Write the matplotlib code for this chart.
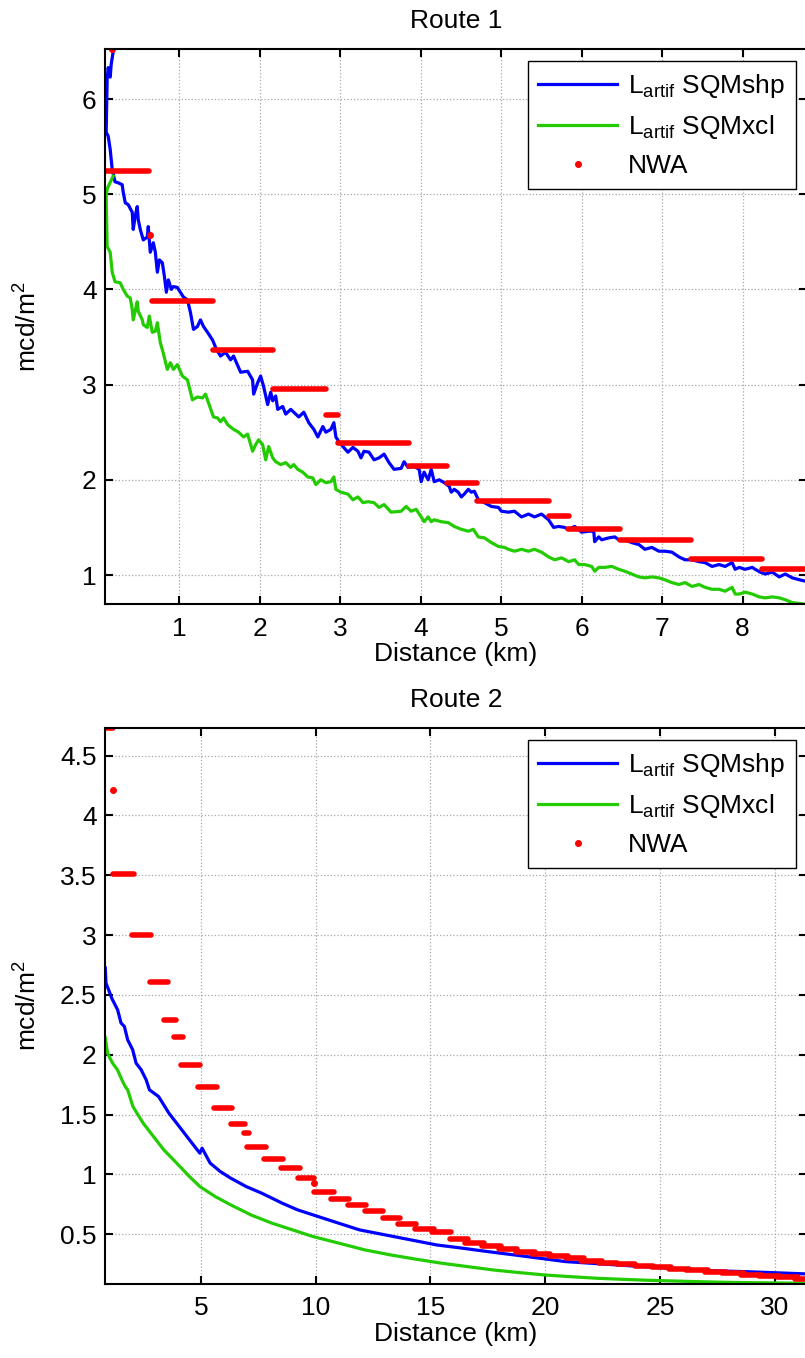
import numpy as np
import matplotlib
matplotlib.use("Agg")
import matplotlib.pyplot as plt

plt.rcParams['font.family'] = ['Liberation Sans', 'DejaVu Sans']
plt.rcParams['mathtext.fontset'] = 'custom'
plt.rcParams['mathtext.rm'] = 'Liberation Sans'
plt.rcParams['mathtext.it'] = 'Liberation Sans:italic'

# ---- Route 1 data ----
r1_shp_km = [0.177, 0.152, 0.140, 0.115, 0.102, 0.09, 0.115, 0.14, 0.165, 0.20,
             0.239, 0.289, 0.302, 0.327, 0.364, 0.414, 0.426, 0.451, 0.476, 0.489,
             0.514, 0.551, 0.601, 0.613, 0.638, 0.676, 0.701, 0.726, 0.751, 0.788,
             0.813, 0.838, 0.863, 0.900, 0.925, 0.975, 1.012, 1.05, 1.10, 1.137,
             1.175, 1.224, 1.262, 1.30, 1.349, 1.411, 1.461, 1.511, 1.574, 1.636,
             1.673, 1.761, 1.848, 1.910, 1.923, 1.973, 2.01, 2.047, 2.097, 2.135,
             2.16, 2.197, 2.222, 2.284, 2.322, 2.384, 2.421, 2.484, 2.546, 2.608,
             2.671, 2.721, 2.783, 2.82, 2.883, 2.92, 2.945, 2.983, 3.032, 3.095,
             3.157, 3.219, 3.257, 3.294, 3.357, 3.419, 3.481, 3.544, 3.606, 3.668,
             3.756, 3.793, 3.843, 3.918, 3.98, 4.005, 4.042, 4.092, 4.13, 4.167,
             4.229, 4.292, 4.354, 4.379, 4.416, 4.466, 4.504, 4.541, 4.591, 4.628,
             4.666, 4.716, 4.791, 4.878, 4.965, 5.002, 5.09, 5.165, 5.252, 5.339,
             5.414, 5.501, 5.589, 5.651, 5.713, 5.788, 5.838, 5.913, 6.0, 6.087,
             6.15, 6.162, 6.212, 6.249, 6.337, 6.411, 6.461, 6.536, 6.623, 6.711,
             6.786, 6.873, 6.96, 7.035, 7.122, 7.209, 7.284, 7.372, 7.459, 7.534,
             7.621, 7.708, 7.783, 7.870, 7.908, 7.958, 8.032, 8.12, 8.157, 8.219,
             8.282, 8.369, 8.456, 8.531, 8.618, 8.706, 8.805]
r1_shp = [6.50, 6.36, 6.23, 6.33, 6.20, 5.65, 5.61, 5.47, 5.26, 5.13,
          5.12, 5.10, 5.02, 4.91, 4.89, 4.81, 4.63, 4.77, 4.87, 4.73,
          4.63, 4.52, 4.55, 4.66, 4.39, 4.49, 4.39, 4.18, 4.31, 4.28,
          4.14, 3.97, 4.10, 4.00, 4.03, 4.02, 3.97, 3.92, 3.89, 3.76,
          3.58, 3.61, 3.68, 3.61, 3.55, 3.47, 3.37, 3.30, 3.34, 3.26,
          3.30, 3.13, 3.14, 3.05, 2.90, 3.02, 3.09, 2.98, 2.79, 2.92,
          2.83, 2.88, 2.74, 2.77, 2.69, 2.74, 2.71, 2.66, 2.71, 2.60,
          2.53, 2.45, 2.56, 2.50, 2.53, 2.60, 2.45, 2.40, 2.35, 2.29,
          2.34, 2.30, 2.23, 2.30, 2.29, 2.21, 2.23, 2.27, 2.18, 2.11,
          2.12, 2.19, 2.13, 2.14, 2.11, 1.98, 2.08, 2.00, 2.11, 1.98,
          2.00, 1.97, 1.93, 1.87, 1.90, 1.87, 1.82, 1.85, 1.90, 1.87,
          1.88, 1.79, 1.76, 1.72, 1.71, 1.67, 1.66, 1.67, 1.61, 1.64,
          1.61, 1.64, 1.58, 1.50, 1.51, 1.50, 1.48, 1.51, 1.45, 1.46,
          1.46, 1.35, 1.40, 1.37, 1.39, 1.40, 1.37, 1.37, 1.34, 1.32,
          1.27, 1.29, 1.25, 1.25, 1.24, 1.19, 1.16, 1.16, 1.14, 1.13,
          1.09, 1.11, 1.09, 1.13, 1.06, 1.08, 1.06, 1.08, 1.06, 1.03,
          1.01, 1.03, 0.98, 1.01, 0.97, 0.95, 0.93]

r1_xcl_km = [0.177, 0.115, 0.102, 0.09, 0.102, 0.14, 0.165, 0.20, 0.264, 0.302,
             0.352, 0.389, 0.414, 0.426, 0.476, 0.489, 0.539, 0.551, 0.601, 0.626,
             0.663, 0.701, 0.726, 0.763, 0.80, 0.85, 0.888, 0.925, 0.975, 1.037,
             1.10, 1.162, 1.224, 1.287, 1.324, 1.362, 1.424, 1.474, 1.511, 1.549,
             1.599, 1.673, 1.736, 1.798, 1.848, 1.910, 1.948, 1.985, 2.035, 2.072,
             2.110, 2.16, 2.197, 2.259, 2.322, 2.384, 2.421, 2.471, 2.534, 2.596,
             2.658, 2.696, 2.758, 2.82, 2.883, 2.92, 2.945, 3.007, 3.095, 3.157,
             3.219, 3.282, 3.344, 3.419, 3.481, 3.544, 3.631, 3.756, 3.818, 3.880,
             3.943, 4.005, 4.042, 4.092, 4.13, 4.167, 4.254, 4.342, 4.416, 4.504,
             4.591, 4.653, 4.716, 4.791, 4.878, 4.965, 5.04, 5.09, 5.165, 5.252,
             5.339, 5.414, 5.501, 5.589, 5.663, 5.751, 5.838, 5.913, 5.963, 6.037,
             6.125, 6.162, 6.212, 6.287, 6.374, 6.461, 6.536, 6.623, 6.711, 6.786,
             6.873, 6.96, 7.035, 7.122, 7.209, 7.284, 7.372, 7.459, 7.534, 7.621,
             7.708, 7.783, 7.870, 7.908, 7.958, 8.032, 8.12, 8.207, 8.282, 8.369,
             8.456, 8.531, 8.618, 8.706, 8.805]
r1_xcl = [5.19, 5.08, 5.05, 4.98, 4.45, 4.39, 4.18, 4.08, 4.07, 4.00,
          3.93, 3.91, 3.79, 3.68, 3.87, 3.77, 3.68, 3.63, 3.60, 3.72,
          3.55, 3.56, 3.65, 3.44, 3.33, 3.16, 3.23, 3.16, 3.21, 3.09,
          3.05, 2.84, 2.87, 2.86, 2.90, 2.81, 2.66, 2.65, 2.61, 2.65,
          2.58, 2.53, 2.50, 2.45, 2.48, 2.30, 2.37, 2.42, 2.37, 2.21,
          2.35, 2.23, 2.19, 2.16, 2.18, 2.13, 2.16, 2.11, 2.08, 2.03,
          2.02, 1.95, 2.00, 1.97, 1.98, 2.03, 1.90, 1.87, 1.85, 1.79,
          1.82, 1.76, 1.77, 1.76, 1.71, 1.74, 1.66, 1.67, 1.72, 1.67,
          1.69, 1.61, 1.56, 1.61, 1.56, 1.58, 1.56, 1.55, 1.51, 1.48,
          1.46, 1.48, 1.40, 1.39, 1.34, 1.30, 1.29, 1.27, 1.25, 1.27,
          1.25, 1.27, 1.24, 1.19, 1.16, 1.18, 1.14, 1.16, 1.11, 1.11,
          1.09, 1.04, 1.08, 1.08, 1.09, 1.06, 1.04, 1.01, 0.98, 0.97,
          0.98, 0.97, 0.95, 0.92, 0.90, 0.92, 0.88, 0.90, 0.87, 0.85,
          0.85, 0.83, 0.87, 0.80, 0.80, 0.82, 0.80, 0.77, 0.76, 0.77,
          0.76, 0.74, 0.71, 0.70, 0.69]

# NWA steps: start km, end km, value
r1_nwa_start = [0.077, 0.66, 1.415, 2.163, 2.82, 2.966, 3.86, 4.325, 4.70, 5.589, 5.83, 6.478, 7.355, 8.244]
r1_nwa_end = [0.626, 1.415, 2.168, 2.82, 2.966, 3.86, 4.325, 4.70, 5.589, 5.847, 6.478, 7.355, 8.244, 8.85]
r1_nwa = [5.24, 3.876, 3.36, 2.95, 2.68, 2.39, 2.147, 1.964, 1.775, 1.618, 1.488, 1.366, 1.163, 1.068]
r1_nwa_dot_km = [0.165, 0.638]
r1_nwa_dot = [6.53, 4.57]

# ---- Route 2 data ----
r2_shp_km = [0.833, 0.864, 1.025, 1.12, 1.227, 1.371, 1.520, 1.665, 1.809, 2.027, 2.176,
             2.395, 2.614, 2.758, 3.156, 3.606, 4.057, 4.503, 4.953, 5.05, 5.402,
             5.848, 6.299, 6.972, 7.646, 8.542, 9.215, 9.889, 10.79, 11.909, 13.032,
             14.156, 15.275, 16.399, 17.523, 18.642, 19.766, 20.89, 22.009, 23.133, 24.257,
             25.381, 26.478, 27.602, 28.747, 29.866, 31.397]
r2_shp = [2.725, 2.60, 2.52, 2.47, 2.43, 2.376, 2.265, 2.237, 2.125, 2.042, 1.93,
          1.875, 1.791, 1.707, 1.651, 1.512, 1.40, 1.289, 1.178, 1.22, 1.095,
          1.024, 0.969, 0.899, 0.844, 0.76, 0.704, 0.662, 0.606, 0.537, 0.495,
          0.453, 0.411, 0.384, 0.355, 0.328, 0.30, 0.272, 0.258, 0.244, 0.23,
          0.217, 0.202, 0.194, 0.188, 0.18, 0.169]

r2_xcl_km = [0.833, 0.934, 1.03, 1.152, 1.362, 1.59, 1.7, 1.809, 2.036, 2.483,
             2.933, 3.383, 3.943, 4.503, 4.953, 5.627, 6.299, 7.195, 8.096, 8.992,
             9.889, 11.012, 12.136, 13.255, 14.379, 15.503, 16.622, 17.746, 18.87, 19.989,
             21.113, 22.237, 23.356, 24.48, 25.604, 26.727, 27.846, 28.97, 30.317, 31.397]
r2_xcl = [2.14, 2.014, 1.975, 1.93, 1.875, 1.777, 1.735, 1.707, 1.568, 1.429,
          1.317, 1.206, 1.095, 0.982, 0.899, 0.815, 0.746, 0.661, 0.593, 0.537,
          0.481, 0.426, 0.37, 0.328, 0.292, 0.258, 0.23, 0.202, 0.18, 0.16,
          0.146, 0.133, 0.124, 0.116, 0.11, 0.104, 0.099, 0.096, 0.093, 0.091]

r2_nwa_start = [0.75, 1.18, 2.01, 2.77, 3.37, 3.84, 4.13, 4.87, 5.58, 6.30, 6.86, 7.01, 7.76, 8.50,
                9.21, 9.94, 10.68, 11.39, 12.14, 12.92, 13.59, 14.34, 15.05, 15.84, 16.51, 17.25,
                17.97, 18.71, 19.43, 20.17, 20.89, 21.56, 22.32, 23.13, 23.91, 24.66, 25.38, 26.15,
                26.94, 27.72, 28.51, 29.30, 30.08, 30.87]
r2_nwa_end = [1.18, 2.09, 2.84, 3.58, 3.93, 4.22, 4.95, 5.68, 6.36, 6.93, 7.09, 7.82, 8.59, 9.33,
              9.94, 10.79, 11.47, 12.2, 12.92, 13.66, 14.38, 15.17, 15.90, 16.62, 17.34, 18.08,
              18.76, 19.54, 20.22, 21.0, 21.68, 22.46, 23.11, 23.92, 24.71, 25.49, 26.28, 27.07,
              27.86, 28.64, 29.43, 30.22, 31.0, 31.6]
r2_nwa = [4.73, 3.511, 2.998, 2.608, 2.293, 2.145, 1.916, 1.727, 1.559, 1.42, 1.345, 1.233, 1.133, 1.05,
          0.972, 0.857, 0.799, 0.743, 0.693, 0.635, 0.587, 0.548, 0.518, 0.459, 0.426, 0.403,
          0.381, 0.35, 0.336, 0.319, 0.30, 0.278, 0.264, 0.253, 0.238, 0.227, 0.213, 0.202,
          0.188, 0.175, 0.16, 0.152, 0.141, 0.13]
r2_nwa_dot_km = [1.18, 9.94]
r2_nwa_dot = [4.21, 0.927]

labels = [r'L$_{\mathrm{artif}}$ SQMshp', r'L$_{\mathrm{artif}}$ SQMxcl', 'NWA']
FS = 19

fig = plt.figure(figsize=(8.05, 13.58), dpi=100)
ax1 = fig.add_axes([0.1304, 0.5552, 0.872, 0.4087])
ax2 = fig.add_axes([0.1304, 0.0545, 0.872, 0.4094])


def draw(ax, shp_km, shp, xcl_km, xcl, n0, n1, nv, dk, dv, title, xlim, ylim, xticks, yticks, ylabels):
    ax.plot(shp_km, shp, color='#0000ff', lw=2.3, label=labels[0])
    ax.plot(xcl_km, xcl, color='#22cc00', lw=2.3, label=labels[1])
    ax.hlines(nv, n0, n1, colors='#ff0000', lw=4.0, capstyle='round')
    ax.plot(dk, dv, '.', color='#ff0000', ms=8, label=labels[2])
    ax.set_xlim(*xlim)
    ax.set_ylim(*ylim)
    ax.set_xticks(xticks)
    ax.set_yticks(yticks)
    ax.set_yticklabels(ylabels)
    ax.grid(True, linestyle=':', color='#a8a8a8', lw=0.9)
    ax.tick_params(direction='in', length=6, width=1.5, labelsize=FS, top=True, right=True)
    ax.tick_params(axis='x', pad=9)
    ax.tick_params(axis='y', pad=6)
    for s in ax.spines.values():
        s.set_linewidth(1.5)
    ax.set_title(title, fontsize=FS, pad=15)
    ax.set_xlabel('Distance (km)', fontsize=FS, labelpad=1)
    ax.set_ylabel('mcd/m$^2$', fontsize=FS)
    ax.yaxis.set_label_coords(-0.09, 0.5)
    leg = ax.legend(loc='upper right', bbox_to_anchor=(0.984, 0.978), borderaxespad=0,
                    fontsize=FS, fancybox=False, framealpha=1, edgecolor='black',
                    handlelength=3.0, handletextpad=0.4, labelspacing=0.5, borderpad=0.4)
    leg.get_frame().set_linewidth(1.0)


draw(ax1, r1_shp_km, r1_shp, r1_xcl_km, r1_xcl, r1_nwa_start, r1_nwa_end, r1_nwa,
     r1_nwa_dot_km, r1_nwa_dot, 'Route 1', (0.075, 8.8), (0.695, 6.525),
     [1, 2, 3, 4, 5, 6, 7, 8], [1, 2, 3, 4, 5, 6], ['1', '2', '3', '4', '5', '6'])
draw(ax2, r2_shp_km, r2_shp, r2_xcl_km, r2_xcl, r2_nwa_start, r2_nwa_end, r2_nwa,
     r2_nwa_dot_km, r2_nwa_dot, 'Route 2', (0.82, 31.4), (0.085, 4.73),
     [5, 10, 15, 20, 25, 30], [0.5, 1, 1.5, 2, 2.5, 3, 3.5, 4, 4.5],
     ['0.5', '1', '1.5', '2', '2.5', '3', '3.5', '4', '4.5'])

fig.savefig('out.png', dpi=100)
